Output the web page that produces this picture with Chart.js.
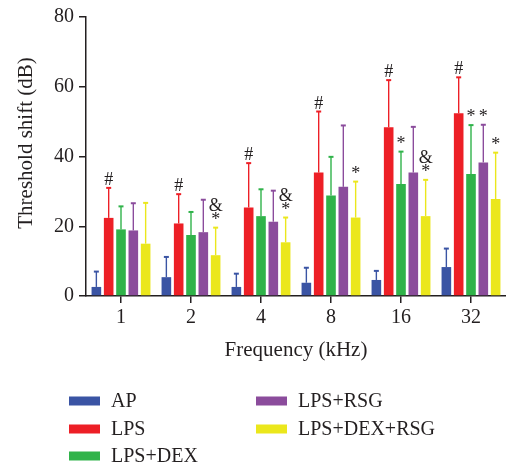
<!DOCTYPE html>
<html>
<head>
<meta charset="utf-8">
<script src="https://cdn.jsdelivr.net/npm/chart.js@4"></script>
<style>
  html, body { margin: 0; padding: 0; background: #fff; }
  #wrap { width: 506px; height: 466px; }
</style>
</head>
<body>
<div id="wrap"><canvas id="chart" width="506" height="466"></canvas></div>
<script>
// categories (kHz)
const frequencies = ['1', '2', '4', '8', '16', '32'];
const groupNames = ['AP', 'LPS', 'LPS+DEX', 'LPS+RSG', 'LPS+DEX+RSG'];

// mean threshold shift (dB)
const apMean = [2.6, 5.4, 2.6, 3.8, 4.6, 8.3];
const lpsMean = [22.4, 20.8, 25.4, 35.4, 48.4, 52.4];
const lpsDexMean = [19.1, 17.5, 22.9, 28.8, 32.1, 35.0];
const lpsRsgMean = [18.8, 18.3, 21.3, 31.3, 35.4, 38.3];
const lpsDexRsgMean = [15.0, 11.7, 15.4, 22.5, 22.9, 27.8];

// upper error (dB)
const apErr = [4.4, 5.8, 3.8, 4.3, 2.6, 5.3];
const lpsErr = [8.6, 8.4, 12.7, 17.5, 13.5, 10.3];
const lpsDexErr = [6.6, 6.6, 7.7, 11.1, 9.3, 14.0];
const lpsRsgErr = [7.8, 9.3, 8.9, 17.6, 13.1, 10.8];
const lpsDexRsgErr = [11.7, 7.9, 7.1, 10.3, 10.4, 13.3];

// significance marks (top to bottom)
const apMarks = ['', '', '', '', '', ''];
const lpsMarks = ['#', '#', '#', '#', '#', '#'];
const lpsDexMarks = ['', '', '', '', '*', '*'];
const lpsRsgMarks = ['', '', '', '', '', '*'];
const lpsDexRsgMarks = ['', '&*', '&*', '*', '&*', '*'];

const yTicks = [0, 20, 40, 60, 80];
const yTitle = 'Threshold shift (dB)';

const colors = ['#3a54a4', '#ed1f26', '#30b34a', '#8b4c9c', '#ebe71c'];
const means = [apMean, lpsMean, lpsDexMean, lpsRsgMean, lpsDexRsgMean];
const errs = [apErr, lpsErr, lpsDexErr, lpsRsgErr, lpsDexRsgErr];
const marks = [apMarks, lpsMarks, lpsDexMarks, lpsRsgMarks, lpsDexRsgMarks];

const serif = '"Liberation Serif", "DejaVu Serif", serif';
const ink = '#231f20';

// error bars + significance marks
const errorBarPlugin = {
  id: 'errorBars',
  afterDatasetsDraw(chart) {
    const ctx = chart.ctx;
    const y = chart.scales.y;
    chart.data.datasets.forEach((ds, i) => {
      const meta = chart.getDatasetMeta(i);
      meta.data.forEach((bar, j) => {
        const top = y.getPixelForValue(ds.data[j] + ds.errors[j]);
        const base = bar.y;
        ctx.save();
        ctx.strokeStyle = ds.backgroundColor;
        ctx.lineWidth = 1.4;
        ctx.beginPath();
        ctx.moveTo(bar.x, base);
        ctx.lineTo(bar.x, top);
        ctx.stroke();
        ctx.lineWidth = 2;
        ctx.beginPath();
        ctx.moveTo(bar.x - 2.5, top);
        ctx.lineTo(bar.x + 2.5, top);
        ctx.stroke();
        // marks
        const m = ds.marks[j];
        if (m) {
          ctx.fillStyle = ink;
          ctx.font = '18px ' + serif;
          ctx.textAlign = 'center';
          ctx.textBaseline = 'alphabetic';
          const chars = m.split('').reverse();
          chars.forEach((c, k) => {
            ctx.fillText(c, bar.x, top - 3 - k * 14);
          });
        }
        ctx.restore();
      });
    });
  }
};

// y title (sits a bit above the axis middle) and two-column legend
const legendPlugin = {
  id: 'colLegend',
  afterDraw(chart) {
    const ctx = chart.ctx;
    ctx.save();
    ctx.fillStyle = ink;
    ctx.font = '21px ' + serif;
    ctx.textAlign = 'center';
    ctx.textBaseline = 'middle';
    ctx.translate(26, 143);
    ctx.rotate(-Math.PI / 2);
    ctx.fillText(yTitle, 0, 0);
    ctx.restore();

    const cols = [69, 256];
    const rows = [401, 429, 456];
    ctx.save();
    ctx.font = '20px ' + serif;
    ctx.textBaseline = 'middle';
    ctx.textAlign = 'left';
    chart.data.datasets.forEach((ds, i) => {
      const cx = cols[Math.floor(i / 3)];
      const cy = rows[i % 3];
      ctx.fillStyle = ds.backgroundColor;
      ctx.fillRect(cx, cy - 4.5, 31, 9);
      ctx.fillStyle = ink;
      ctx.fillText(ds.label, cx + 42, cy + 1);
    });
    ctx.restore();
  }
};

new Chart(document.getElementById('chart'), {
  type: 'bar',
  data: {
    labels: frequencies,
    datasets: groupNames.map((name, i) => ({
      label: name,
      data: means[i],
      errors: errs[i],
      marks: marks[i],
      backgroundColor: colors[i],
      borderWidth: 0,
      categoryPercentage: 0.88,
      barPercentage: 0.78
    }))
  },
  options: {
    responsive: false,
    animation: false,
    layout: { padding: { top: 17, right: 0, bottom: 100, left: 0 } },
    plugins: {
      legend: { display: false },
      tooltip: { enabled: false }
    },
    scales: {
      x: {
        afterFit(scale) { scale.height = 70; },
        grid: { drawOnChartArea: false, drawTicks: true, tickLength: 7, offset: false, color: ink, lineWidth: 1.5 },
        border: { display: true, color: ink, width: 1.5 },
        ticks: { color: ink, font: { family: serif, size: 20 }, padding: 3 },
        title: { display: true, text: 'Frequency (kHz)', color: ink, font: { family: serif, size: 21 }, padding: { top: 0, bottom: 3 } }
      },
      y: {
        min: 0,
        max: 80,
        afterFit(scale) { scale.width = 86; },
        afterBuildTicks(scale) { scale.ticks = yTicks.map(v => ({ value: v })); },
        grid: { drawOnChartArea: false, drawTicks: true, tickLength: 7, color: ink, lineWidth: 1.5 },
        border: { display: true, color: ink, width: 1.5 },
        ticks: { color: ink, font: { family: serif, size: 20 }, padding: 5 }
      }
    }
  },
  plugins: [errorBarPlugin, legendPlugin]
});
</script>
</body>
</html>
